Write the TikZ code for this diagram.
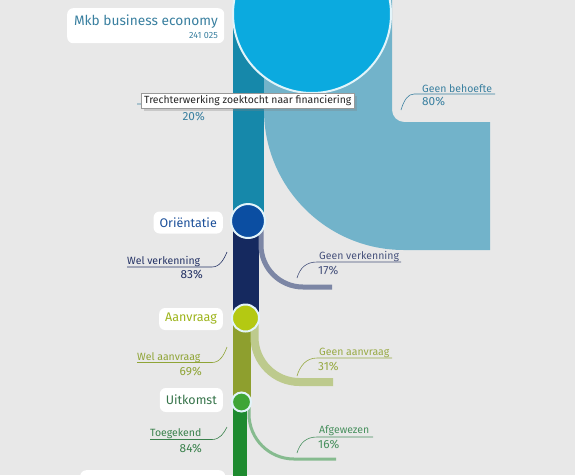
\documentclass[tikz,border=0pt]{standalone}
\usepackage{fontspec}
\setmainfont{Fira Sans}
\usetikzlibrary{shadows}

\definecolor{bg}{HTML}{E8E8E8}
\definecolor{ringcol}{HTML}{E2F4FA}
\definecolor{mkbfill}{HTML}{0BAADF}
\definecolor{tealstem}{HTML}{1688AA}
\definecolor{behoefte}{HTML}{72B3CA}
\definecolor{orifill}{HTML}{0B4EA2}
\definecolor{navystem}{HTML}{15295F}
\definecolor{gvband}{HTML}{7C86A5}
\definecolor{aanfill}{HTML}{B4C912}
\definecolor{olivestem}{HTML}{8E9F2E}
\definecolor{gaband}{HTML}{BDCA8D}
\definecolor{uitfill}{HTML}{3FA536}
\definecolor{greenstem}{HTML}{1E8A2F}
\definecolor{afband}{HTML}{86BB8F}
\definecolor{mkbtxt}{HTML}{3A80A0}
\definecolor{behtxt}{HTML}{3A80A0}
\definecolor{oritxt}{HTML}{1C509A}
\definecolor{navytxt}{HTML}{243265}
\definecolor{gvtxt}{HTML}{47527C}
\definecolor{aantxt}{HTML}{9DB41A}
\definecolor{watxt}{HTML}{8FA436}
\definecolor{gatxt}{HTML}{98AA44}
\definecolor{uittxt}{HTML}{36744A}
\definecolor{tktxt}{HTML}{3A814C}
\definecolor{afwtxt}{HTML}{48905E}

\begin{document}
\begin{tikzpicture}[x=1pt, y=-1pt,
    stage/.style={circle, draw=ringcol, line width=2pt, inner sep=0pt},
    stagebox/.style={fill=white, rounded corners=6pt, inner xsep=6pt, minimum height=22pt,
        anchor=east, font=\fontsize{12.5}{14}\selectfont},
    lbl/.style={inner sep=0pt, font=\fontsize{10.5}{12}\selectfont},
    pct/.style={inner sep=0pt, font=\fontsize{11.8}{13}\selectfont},
    hook/.style={line width=0.6pt},
    band/.style={line cap=butt}]
    % Canvas
    \path[use as bounding box, fill=bg] (0,0) rectangle (575,475);
    \clip (0,0) rectangle (575,475);

    % Stage positions
    \coordinate (c-top) at (312,14);
    \coordinate (c-ori) at (248,221);
    \coordinate (c-aan) at (245.5,318);
    \coordinate (c-uit) at (241.5,402);
    \coordinate (c-end) at (240,480);

    % Geen behoefte flow
    \fill[behoefte] (264,-70) -- (264,110) .. controls (264,187.3) and (326.7,250) .. (404,250)
        -- (490,250) -- (490,122) -- (404,122) .. controls (397.4,122) and (392,116.6) .. (392,110)
        -- (392,-70) -- cycle;

    % Stems
    \draw[band, line width=31pt, tealstem] (c-ori |- c-top) -- (c-ori);
    \draw[band, line width=26pt, navystem] (c-aan |- c-ori) -- (c-aan);
    \draw[band, line width=18pt, olivestem] (c-uit |- c-aan) -- (c-uit);
    \draw[band, line width=14pt, greenstem] ([xshift=-1.5pt]c-uit) -- ([xshift=-1.5pt]c-uit |- c-end);

    % Outflows
    \coordinate (gv-end) at (332,287);
    \coordinate (ga-end) at (333,382);
    \coordinate (af-end) at (336,459);
    \draw[band, line width=5pt, gvband] (261,221) -- (261,245)
        .. controls (261,268.2) and (279.8,287) .. (303,287) -- (gv-end);
    \draw[band, line width=8pt, gaband] (254.5,318) -- (254.5,337)
        .. controls (254.5,361.9) and (274.6,382) .. (299.5,382) -- (ga-end);
    \draw[band, line width=3pt, afband] (249,402) -- (249,414)
        .. controls (249,438.9) and (269.1,459) .. (294,459) -- (af-end);

    % Stages
    \node[stage, fill=mkbfill, minimum size=158pt] (top) at (c-top) {};
    \node[stage, fill=orifill, minimum size=34pt] (ori) at (c-ori) {};
    \node[stage, fill=aanfill, minimum size=27pt] (aan) at (c-aan) {};
    \node[stage, fill=uitfill, minimum size=19pt] (uit) at (c-uit) {};

    % Stage labels
    \node[fill=white, rounded corners=6pt, minimum width=157pt, minimum height=35pt,
        anchor=north west] (mkb) at (67,8) {};
    \node[anchor=base east, inner sep=0pt, text=mkbtxt, font=\fontsize{13.7}{16}\selectfont]
        (mkb-t) at (218,25) {Mkb business economy};
    \node[anchor=base east, inner sep=0pt, text=mkbtxt, font=\fontsize{9}{10}\selectfont]
        (mkb-n) at (218,38) {241 025};
    \node[stagebox, text=oritxt] (ori-l) at (223,222.5) {Oriëntatie};
    \node[stagebox, text=aantxt] (aan-l) at (223,319) {Aanvraag};
    \node[stagebox, text=uittxt, minimum height=24pt] (uit-l) at (223,400) {Uitkomst};
    \node[fill=white, rounded corners=6pt, minimum width=145pt, minimum height=30pt,
        anchor=north west] (next-l) at (80,470) {};

    % Left labels
    \coordinate (wb-h) at (226,96);
    \draw[hook, behtxt] (137,104) -- (212,104) .. controls (220,104) and (224,100) .. (wb-h);
    \node[pct, anchor=base east, text=behtxt] (wb-p) at (205,120) {20\%};

    \coordinate (wv-h) at (227,252);
    \node[lbl, anchor=base west, text=navytxt] (wv) at (127,264) {Wel verkenning};
    \node[pct, anchor=base east, text=navytxt] (wv-p) at (203,278.5) {83\%};
    \draw[hook, navytxt] (127,267) -- (212,267) .. controls (220,267) and (224,259) .. (wv-h);

    \coordinate (wa-h) at (227,347);
    \node[lbl, anchor=base west, text=watxt] (wa) at (137,360) {Wel aanvraag};
    \node[pct, anchor=base east, text=watxt] (wa-p) at (202,375.5) {69\%};
    \draw[hook, watxt] (137,362.5) -- (212,362.5) .. controls (220,362.5) and (224,355) .. (wa-h);

    \coordinate (tk-h) at (227,427);
    \node[lbl, anchor=base west, text=tktxt] (tk) at (150,436.5) {Toegekend};
    \node[pct, anchor=base east, text=tktxt] (tk-p) at (202,452.5) {84\%};
    \draw[hook, tktxt] (150,439.5) -- (212,439.5) .. controls (220,439.5) and (224,433) .. (tk-h);

    % Right labels
    \coordinate (gb-h) at (401,110);
    \node[lbl, anchor=base west, text=behtxt] (gb) at (422,92) {Geen behoefte};
    \node[pct, anchor=base west, text=behtxt] (gb-p) at (422,105.5) {80\%};
    \draw[hook, behtxt] (gb-h) .. controls (404,100) and (408,94) .. (414,94) -- (495,94);

    \coordinate (gv-h) at (297,278);
    \node[lbl, anchor=base west, text=gvtxt] (gv) at (319,259) {Geen verkenning};
    \node[pct, anchor=base west, text=gvtxt] (gv-p) at (318,274.5) {17\%};
    \draw[hook, gvtxt] (gv-h) .. controls (300,268) and (306,262) .. (317,262) -- (401,262);

    \coordinate (ga-h) at (297,376);
    \node[lbl, anchor=base west, text=gatxt] (ga) at (319,355) {Geen aanvraag};
    \node[pct, anchor=base west, text=gatxt] (ga-p) at (318,370.5) {31\%};
    \draw[hook, gatxt] (ga-h) .. controls (300,366) and (306,358) .. (317,358) -- (392,358);

    \coordinate (af-h) at (297,453);
    \node[lbl, anchor=base west, text=afwtxt] (af) at (319,433) {Afgewezen};
    \node[pct, anchor=base west, text=afwtxt] (af-p) at (318,448.5) {16\%};
    \draw[hook, afwtxt] (af-h) .. controls (300,443) and (306,437) .. (317,437) -- (373,437);

    % Tooltip
    \node[draw=gray!80, fill=white, drop shadow={opacity=0.3}, inner xsep=3pt, inner ysep=0pt,
        minimum height=15pt, anchor=west, font=\fontsize{10.4}{12}\selectfont, text=black!85]
        (tip) at (141,100.5) {Trechterwerking zoektocht naar financiering};
\end{tikzpicture}
\end{document}
